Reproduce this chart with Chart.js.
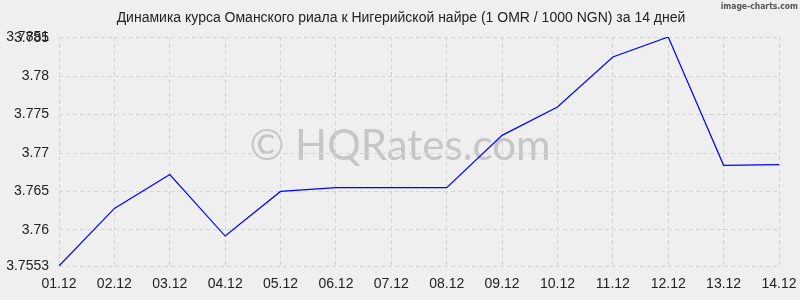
<!DOCTYPE html>
<html>
<head>
<meta charset="utf-8">
<script src="https://cdn.jsdelivr.net/npm/chart.js@4/dist/chart.umd.min.js"></script>
<style>
  html, body { margin: 0; padding: 0; background: #efefef; }
  #wrap { width: 800px; height: 300px; }
</style>
</head>
<body>
<div id="wrap"><canvas id="myChart"></canvas></div>
<script>
// данные
const days = ['01.12', '02.12', '03.12', '04.12', '05.12', '06.12', '07.12',
              '08.12', '09.12', '10.12', '11.12', '12.12', '13.12', '14.12'];
const rates = [3.7553, 3.7628, 3.7672, 3.7592, 3.7650, 3.7655, 3.7655,
               3.7655, 3.7723, 3.7760, 3.7825, 3.7851, 3.7684, 3.7685];
const yTicks = [3.7553, 3.76, 3.765, 3.77, 3.775, 3.78, 3.785, 3.7851];

const titleText = 'Динамика курса Оманского риала к Нигерийской найре (1 OMR / 1000 NGN) за 14 дней';

// фон, заголовок, водяной знак
const backdrop = {
    id: 'backdrop',
    beforeDraw(chart) {
        const ctx = chart.ctx;
        ctx.save();
        ctx.fillStyle = '#efefef';
        ctx.fillRect(0, 0, chart.width, chart.height);
        ctx.font = '42px Lato';
        ctx.fillStyle = '#c6c6c6';
        ctx.textAlign = 'center';
        ctx.textBaseline = 'middle';
        ctx.fillText('© HQRates.com', 400, 146);

        ctx.font = '14px "Liberation Sans", Arial';
        ctx.fillStyle = '#222';
        ctx.fillText(titleText, 401, 18);
        ctx.restore();
    },
    afterDraw(chart) {
        const ctx = chart.ctx;
        ctx.save();
        ctx.font = 'bold 8.5px "DejaVu Sans Condensed"';
        ctx.fillStyle = '#555';
        ctx.textAlign = 'right';
        ctx.textBaseline = 'middle';
        ctx.fillText('image-charts.com', 798, 7);
        ctx.restore();
    }
};

const gridOpts = { color: '#d4d4d4', lineWidth: 1, drawTicks: false };
const borderOpts = { display: false, dash: [4, 3] };
const tickFont = { family: '"Liberation Sans", Arial', size: 14 };

const ctx = document.getElementById('myChart').getContext('2d');
const myChart = new Chart(ctx, {
    type: 'line',
    data: {
        labels: days,
        datasets: [{
            data: rates,
            borderColor: '#0000ff',
            borderWidth: 1.2,
            pointRadius: 0,
            tension: 0,
            fill: false
        }]
    },
    options: {
        responsive: true,
        maintainAspectRatio: false,
        animation: false,
        layout: { padding: { left: 0, right: 21, top: 37, bottom: 0 } },
        plugins: {
            legend: { display: false },
            tooltip: { enabled: false },
            title: { display: false }
        },
        scales: {
            x: {
                grid: gridOpts,
                border: borderOpts,
                ticks: {
                    color: '#222',
                    font: tickFont,
                    padding: 10,
                    maxRotation: 0,
                    autoSkip: false
                },
                afterFit(scale) {
                    scale.height = 34;
                    scale.paddingLeft = 0;
                    scale.paddingRight = 0;
                }
            },
            y: {
                min: 3.7553,
                max: 3.7851,
                grid: gridOpts,
                border: borderOpts,
                ticks: {
                    color: '#222',
                    font: tickFont,
                    padding: 10,
                    callback: (v) => String(v)
                },
                afterBuildTicks(axis) {
                    axis.ticks = yTicks.map(v => ({ value: v }));
                },
                afterFit(scale) {
                    scale.width = 59;
                    scale.paddingTop = 0;
                    scale.paddingBottom = 0;
                }
            }
        }
    },
    plugins: [backdrop]
});
</script>
</body>
</html>
